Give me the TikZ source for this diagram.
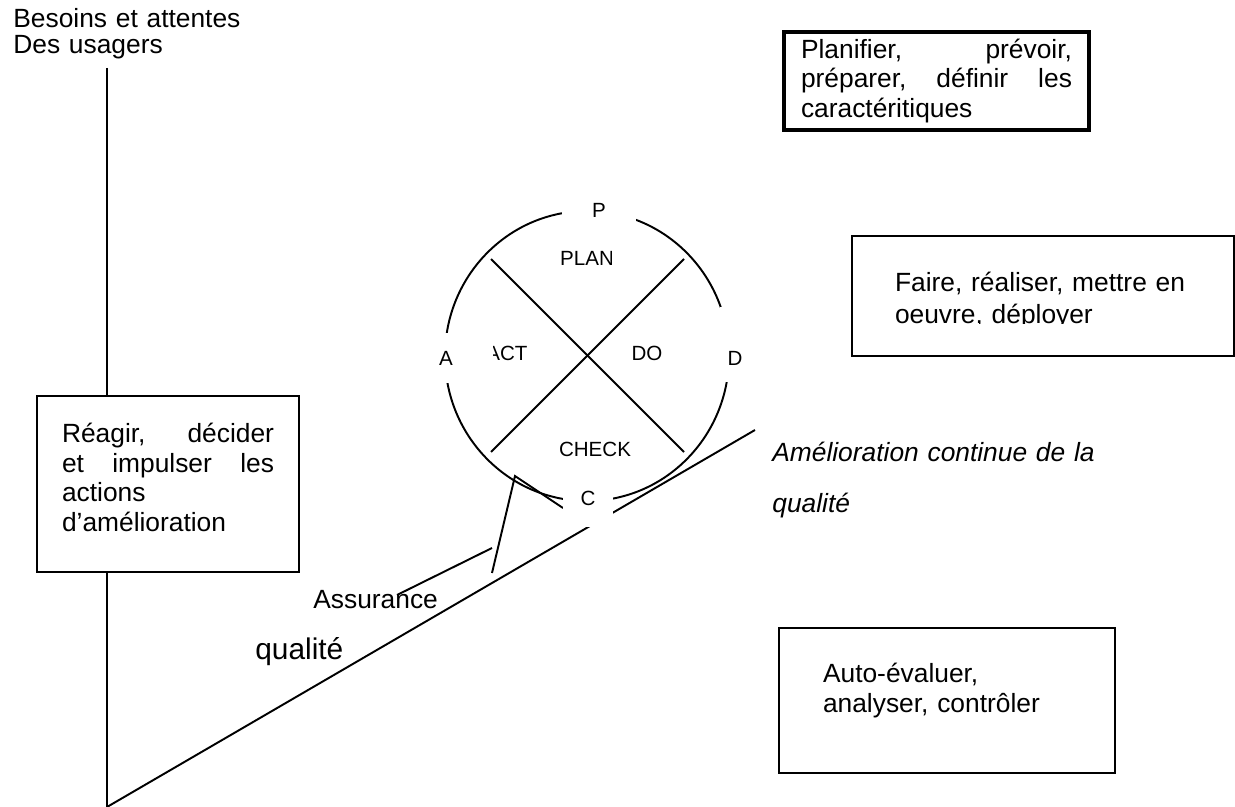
\documentclass[tikz,border=0pt]{standalone}
\usepackage{fontspec}
\setmainfont{Liberation Sans}
\usetikzlibrary{positioning}

\begin{document}
\begin{tikzpicture}[x = 0.02cm, y = -0.02cm]
\tikzset{
   txt/.style = {inner sep = 0pt, font = \fontsize{15}{17}\selectfont},
   box/.style = {rectangle, draw, line width = 0.8pt, txt, align = left},
   thick_box/.style = {box, line width = 2pt},
   word/.style = {inner sep = 0pt, font = \fontsize{11.7}{14}\selectfont},
   letter/.style = {word, fill = white},
   rule_line/.style = {line width = 1.1pt}
}
  \useasboundingbox (0,0) rectangle (1235,807);

  \node[txt, anchor = base west, text width = 6cm, font = \fontsize{15}{14.8}\selectfont] (besoins) at (13,28) {Besoins et attentes\\Des usagers};

  \node[box, minimum width = 5.24cm, minimum height = 3.52cm, text width = 4.24cm, text depth = 2.06cm] (reagir) at (168,484)
       {Réagir,\hfill décider\\et\hfill impulser\hfill les\\actions\\d’amélioration};

  \node[thick_box, minimum width = 6.1cm, minimum height = 1.96cm, text width = 5.42cm] (planifier) at (936.5,81)
       {Planifier,\hfill prévoir,\\préparer,\hfill définir\hfill les\\caractéritiques};

  \node[box, minimum width = 7.64cm, minimum height = 2.4cm, text width = 5.92cm, text height = 0.58cm, font = \fontsize{15}{18}\selectfont] (faire) at (1043,296)
       {Faire, réaliser, mettre en\\oeuvre, déployer};
  \fill[white] (853,324) rectangle (1232.5,355.2);

  \node[box, minimum width = 6.72cm, minimum height = 2.9cm, text width = 4.96cm, text depth = 1.11cm] (auto) at (947,700.5)
       {Auto-évaluer,\\analyser, contrôler};

  \node[txt, anchor = base west, text width = 7cm, font = \itshape\fontsize{15}{29}\selectfont] (amelioration) at (772,462)
       {Amélioration continue de la\\qualité};
  \node[txt, anchor = base west] (assurance) at (313,609) {Assurance};
  \node[txt, anchor = base west, font = \fontsize{17}{20}\selectfont] (qualite) at (255,660) {qualité};

  \coordinate (usagers) at (107,68);
  \coordinate (corner) at (107,807);
  \coordinate (amelioration_end) at (755,430);
  \draw[rule_line] (usagers) -- (usagers |- reagir.north);
  \draw[rule_line] (usagers |- reagir.south) -- (corner) -- (amelioration_end);

  \coordinate (ctr) at (587,356);
  \draw[rule_line] (ctr) ellipse [x radius = 142, y radius = 145];
  \draw[rule_line] (ctr) ++(-96,-97) -- ++(193,193);
  \draw[rule_line] (ctr) ++(97,-97) -- ++(-193,193);

  \draw[rule_line] (492,573) -- (515,476) -- (563,508);
  \draw[rule_line] (397,595) -- (492,548);

  \node[letter, anchor = base, text height = 0.39cm, text depth = 0.29cm, minimum width = 1.48cm] (p) at (599,217.5) {P\hspace{0.4cm}};
  \node[letter, minimum height = 1cm] (a) at (446,358) {A};
  \node[letter, anchor = base, text height = 1.17cm, text depth = 0.33cm, minimum width = 0.6cm] (d) at (735,365.5) {D};
  \node[letter, anchor = base, text height = 0.51cm, text depth = 0.43cm, minimum width = 1.02cm] (c) at (588,505.5) {C};

  \begin{scope}
    \clip (550,240) rectangle (611,275);
    \node[word] (plan) at (587,258) {PLAN};
  \end{scope}
  \begin{scope}
    \clip (493,330) rectangle (540,380);
    \node[word] (act) at (507,353) {ACT};
  \end{scope}
  \node[word] (do) at (647,353) {DO};
  \node[word] (check) at (595,449) {CHECK};

\end{tikzpicture}
\end{document}
